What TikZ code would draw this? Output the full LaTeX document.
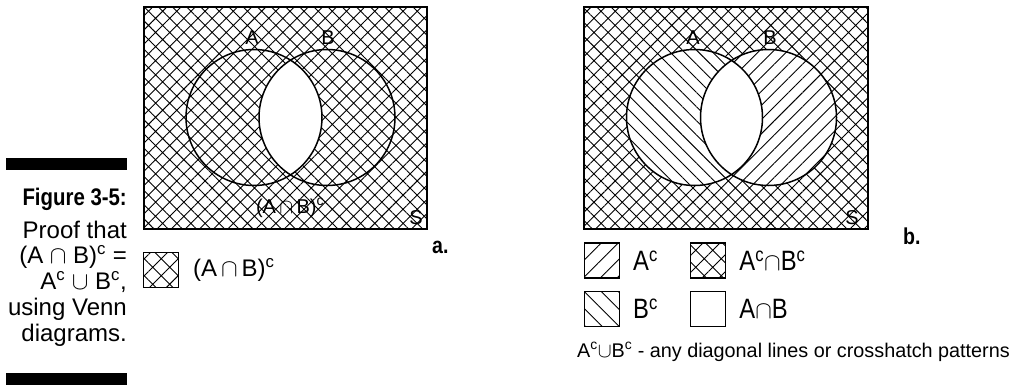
\documentclass[tikz,border=0pt]{standalone}
\usepackage{fontspec}
\setmainfont{Liberation Sans}
\newfontfamily\condfont{Liberation Sans}[FakeStretch=0.85]
\usetikzlibrary{patterns.meta,positioning}
\tikzset{
  frame/.style  ={draw, line width=2pt},
  ring/.style   ={draw, line width=1.5pt},
  crossh/.style ={pattern={Hatch[angle=45,distance=#1,line width=0.9pt]}},
  fwdh/.style   ={pattern={Lines[angle=45,distance=#1,line width=0.9pt]}},
  bwdh/.style   ={pattern={Lines[angle=-45,distance=#1,line width=0.9pt]}},
  keybox/.style ={draw, line width=1.5pt, minimum width=35pt, minimum height=35pt,
                  inner sep=0pt},
  lbl/.style    ={inner sep=0pt, font=\fontsize{20}{20}\selectfont},
  keytxt/.style ={inner sep=0pt, font=\fontsize{24}{24}\selectfont},
  keytxtb/.style={inner sep=0pt, font=\condfont\fontsize{28}{28}\selectfont},
  tag/.style    ={inner sep=0pt, font=\condfont\bfseries\fontsize{23}{23}\selectfont},
  capt/.style   ={inner sep=0pt, align=right, font=\fontsize{24}{25.7}\selectfont}
}

\begin{document}
\begin{tikzpicture}[x=1pt,y=-1pt]
\useasboundingbox (0,0) rectangle (1022,386);
% caption
\fill (6,158) rectangle (127,170);
\fill (6,373) rectangle (127,385);
\node[capt, anchor=north east] (cap) at (127,188)
  {{\condfont\bfseries Figure 3-5:}\\[7pt]Proof that\\(A $\cap$ B)\textsuperscript{c} =\\
   A\textsuperscript{c} $\cup$ B\textsuperscript{c},\\using Venn\\diagrams.};

% diagram a
\draw[frame, crossh=10pt] (144,7) rectangle (427,229);
\begin{scope}
  \clip (254,117.5) circle[radius=68pt];
  \fill[white] (327,117.5) circle[radius=68pt];
\end{scope}
\draw[ring] (254,117.5) circle[radius=68pt] (327,117.5) circle[radius=68pt];
\node[lbl] (aA) at (252,38) {A};
\node[lbl] (aB) at (328,38) {B};
\node[lbl] (aAB) at (290,208) {(A\,$\cap$\,B)\textsuperscript{c}};
\node[lbl] (aS) at (416,218) {S};
\node[tag, anchor=base west] (ta) at (432,253) {a.};
\node[keybox, crossh=12pt] (ka) at (161,270) {};
\node[keytxt, right=14pt of ka] (kat) {(A\,$\cap$\,B)\textsuperscript{c}};

% diagram b
\draw[frame, crossh=10pt] (584,7) rectangle (868,229);
\fill[white] (694.5,117.5) circle[radius=68pt];
\fill[bwdh=10pt] (694.5,117.5) circle[radius=68pt];
\fill[white] (768.5,117.5) circle[radius=68pt];
\fill[fwdh=10pt] (768.5,117.5) circle[radius=68pt];
\begin{scope}
  \clip (694.5,117.5) circle[radius=68pt];
  \fill[white] (768.5,117.5) circle[radius=68pt];
\end{scope}
\draw[ring] (694.5,117.5) circle[radius=68pt] (768.5,117.5) circle[radius=68pt];
\node[lbl] (bA) at (693,38) {A};
\node[lbl] (bB) at (770,38) {B};
\node[lbl] (bS) at (852,218) {S};
\node[tag, anchor=base west] (tb) at (903,244) {b.};
\node[keybox, fwdh=12pt] (k1) at (602,260.5) {};
\node[keybox, crossh=12pt] (k2) at (708,260.5) {};
\node[keybox, bwdh=12pt] (k3) at (602,309) {};
\node[keybox] (k4) at (708,309) {};
\node[keytxtb, right=13pt of k1] (k1t) {A\textsuperscript{c}};
\node[keytxtb, right=13pt of k2] (k2t) {A\textsuperscript{c}$\cap$B\textsuperscript{c}};
\node[keytxtb, right=13pt of k3] (k3t) {B\textsuperscript{c}};
\node[keytxtb, right=13pt of k4] (k4t) {A$\cap$B};
\node[inner sep=0pt, anchor=east, font=\fontsize{19.8}{19.8}\selectfont] (note) at (1010,352)
  {A\textsuperscript{c}$\cup$B\textsuperscript{c} - any diagonal lines or crosshatch patterns};
\end{tikzpicture}
\end{document}
